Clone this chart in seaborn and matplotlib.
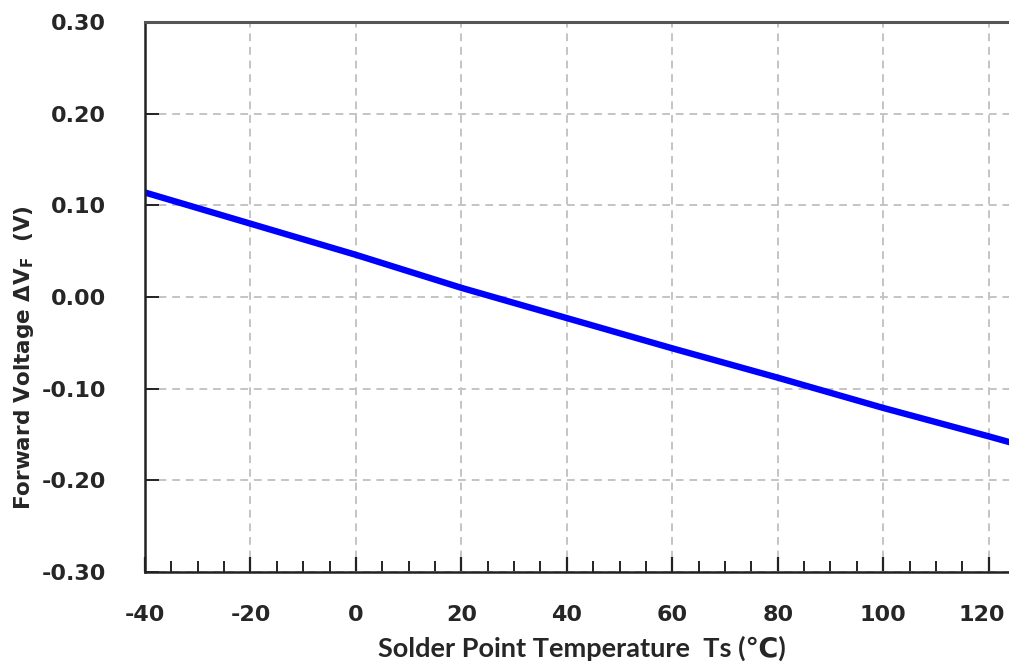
import matplotlib
matplotlib.use("Agg")
import matplotlib.pyplot as plt
import seaborn as sns
import pandas as pd
from matplotlib.ticker import MultipleLocator, FormatStrFormatter
from matplotlib.transforms import ScaledTranslation

temperature = [-40, -20, 0, 20, 40, 60, 80, 100, 120, 125]
delta_vf = [0.114, 0.080, 0.046, 0.010, -0.023, -0.056, -0.088, -0.121, -0.152, -0.160]
x_ticks = [-40, -20, 0, 20, 40, 60, 80, 100, 120]
y_ticks = [-0.30, -0.20, -0.10, 0.00, 0.10, 0.20, 0.30]

sns.set_style("white")
plt.rcParams['font.family'] = ['DejaVu Sans']
plt.rcParams['axes.unicode_minus'] = False
plt.rcParams['mathtext.fontset'] = 'dejavusans'

df = pd.DataFrame({"T": temperature, "dVF": delta_vf})

fig = plt.figure(figsize=(10.09, 6.69), dpi=100)
ax = fig.add_axes([145/1009, 97/669, 870/1009, 550/669])

sns.lineplot(data=df, x="T", y="dVF", ax=ax, color="#0000FF", linewidth=4.6)

ax.set_xlim(-40, 125)
ax.set_ylim(-0.30, 0.30)
ax.set_xticks(x_ticks)
ax.set_yticks(y_ticks)
ax.xaxis.set_minor_locator(MultipleLocator(5))
ax.yaxis.set_major_formatter(FormatStrFormatter('%.2f'))

ax.grid(True, which='major', color='#c4c4c4', linestyle=(0, (4, 3)), linewidth=1.4)
ax.set_axisbelow(True)

for s in ['left', 'bottom']:
    ax.spines[s].set_color('#222222')
    ax.spines[s].set_linewidth(1.8)
ax.spines['top'].set_color('#555555')
ax.spines['top'].set_linewidth(2.2)
ax.spines['right'].set_visible(False)

ax.tick_params(axis='x', which='major', direction='in', length=11, width=1.6,
               color='#222222', pad=24, labelsize=16, top=False, bottom=True)
ax.tick_params(axis='x', which='minor', direction='in', length=8, width=1.4,
               color='#222222', top=False, bottom=True)
ax.tick_params(axis='y', which='major', direction='in', length=10, width=1.4,
               color='#222222', pad=28, labelsize=16, right=False, left=True)
for lbl in ax.get_xticklabels() + ax.get_yticklabels():
    lbl.set_fontweight('bold')
# keep the last x label inside the figure like the reference
last = ax.get_xticklabels()[-1]
last.set_transform(last.get_transform() + ScaledTranslation(-7/100, 0, fig.dpi_scale_trans))

ax.set_xlabel("Solder Point Temperature  Ts (℃)", fontsize=19.5,
              fontweight='bold', family=['Lato', 'DejaVu Sans'])
ax.set_ylabel("Forward Voltage ΔV$_\\mathbf{F}$  (V)", fontsize=15.5,
              fontweight='bold')
ax.xaxis.set_label_coords(437/870, -(636-572)/550)
ax.yaxis.set_label_coords(-(145-36)/870, (572-358)/550)

fig.savefig("out.png", dpi=100)
